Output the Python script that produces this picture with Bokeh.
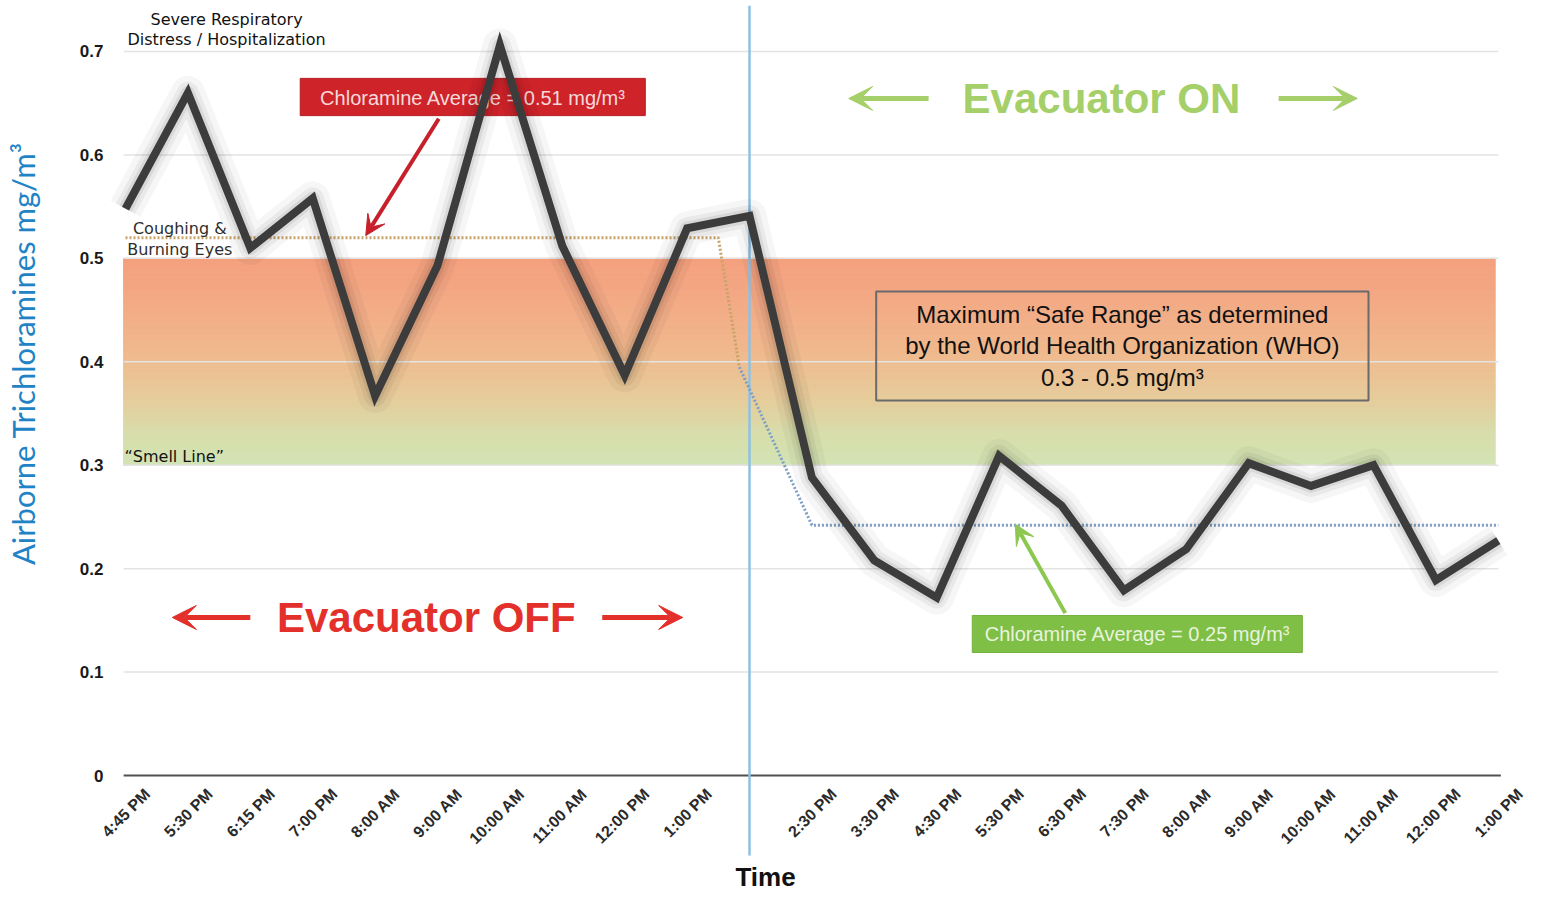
import math
from bokeh.plotting import figure
from bokeh.models import Range1d, FixedTicker, Arrow, VeeHead, Label, ColumnDataSource
from bokeh.core.properties import value
from bokeh.embed import file_html
from bokeh.resources import INLINE

# ---------------- data ----------------
off_times = ["4:45 PM", "5:30 PM", "6:15 PM", "7:00 PM", "8:00 AM", "9:00 AM",
             "10:00 AM", "11:00 AM", "12:00 PM", "1:00 PM"]
switch_time = ""
on_times = ["2:30 PM", "3:30 PM", "4:30 PM", "5:30 PM", "6:30 PM", "7:30 PM",
            "8:00 AM", "9:00 AM", "10:00 AM", "11:00 AM", "12:00 PM", "1:00 PM"]
off_values = [0.548, 0.660, 0.510, 0.558, 0.367, 0.493, 0.706, 0.512, 0.387, 0.529]
switch_value = 0.541
on_values = [0.288, 0.208, 0.172, 0.309, 0.261, 0.179, 0.219, 0.302, 0.280, 0.300, 0.189, 0.227]
avg_off = 0.52
avg_on = 0.242
safe_low, safe_high = 0.3, 0.5
y_ticks = [0, 0.1, 0.2, 0.3, 0.4, 0.5, 0.6, 0.7]
y_tick_labels = ["0", "0.1", "0.2", "0.3", "0.4", "0.5", "0.6", "0.7"]

labels = off_times + [switch_time] + on_times
values = off_values + [switch_value] + on_values
n = len(labels)
xs = list(range(n))
sw = len(off_times)          # index where the evacuator is switched on
last = n - 1

# ---------------- styling ----------------
FONT = "Liberation Sans"
NOTE_FONT = "DejaVu Sans"
GRID_X0 = -0.03
LABEL_SHIFT = 0.35
YAXIS_X = -0.2404

x_range = Range1d(-2.0032, 22.516)
y_range = Range1d(-0.11892, 0.74447)
p = figure(width=1535, height=898, output_backend="svg", toolbar_location=None,
           x_range=x_range, y_range=y_range,
           min_border_left=0, min_border_right=5, min_border_top=5, min_border_bottom=0)
p.outline_line_color = None
p.grid.visible = False
p.background_fill_color = "white"
p.border_fill_color = "white"

# x axis (drawn at y = 0 inside the frame)
tick_pos = [i + LABEL_SHIFT for i in xs]
p.xaxis.ticker = FixedTicker(ticks=tick_pos)
p.xaxis.major_label_overrides = {t: lab for t, lab in zip(tick_pos, labels)}
p.xaxis.major_label_orientation = math.pi / 4
p.xaxis.fixed_location = 0
p.xaxis.axis_line_color = None
p.xaxis.major_tick_line_color = None
p.xaxis.minor_tick_line_color = None
p.xaxis.major_tick_out = 0
p.xaxis.major_tick_in = 0
p.xaxis.major_label_text_font = FONT
p.xaxis.major_label_text_font_size = "16px"
p.xaxis.major_label_text_font_style = "bold"
p.xaxis.major_label_text_color = "#2a2a2a"
p.xaxis.major_label_standoff = 16
p.xaxis.axis_label = "Time"
p.xaxis.axis_label_text_font = FONT
p.xaxis.axis_label_text_font_size = "26px"
p.xaxis.axis_label_text_font_style = "bold"
p.xaxis.axis_label_text_color = "#111111"
p.xaxis.axis_label_standoff = 6

# y axis (drawn at the left edge of the plotting area)
p.yaxis.ticker = FixedTicker(ticks=y_ticks)
p.yaxis.major_label_overrides = {t: s for t, s in zip(y_ticks, y_tick_labels)}
p.yaxis.fixed_location = YAXIS_X
p.yaxis.axis_line_color = None
p.yaxis.major_tick_line_color = None
p.yaxis.minor_tick_line_color = None
p.yaxis.major_tick_out = 0
p.yaxis.major_tick_in = 0
p.yaxis.major_label_text_font = FONT
p.yaxis.major_label_text_font_size = "17px"
p.yaxis.major_label_text_font_style = "bold"
p.yaxis.major_label_text_color = "#1a1a1a"
p.yaxis.major_label_standoff = 7

p.add_layout(Label(x=-1.65, y=0.408, text="Airborne Trichloramines mg/m³", angle=math.pi / 2,
                   text_font="Lato", text_font_size="31px", text_color="#1f83c6",
                   text_align="center", text_baseline="middle"))

# ---- WHO safe band with vertical gradient ----
stops = [(0.0, (0xd3, 0xe4, 0xb4)), (0.17, (0xd8, 0xdc, 0xaa)), (0.32, (0xe6, 0xcc, 0x9b)),
         (0.56, (0xf0, 0xb8, 0x8d)), (0.8, (0xf3, 0xa9, 0x85)), (1.0, (0xf4, 0xa0, 0x7e))]

def interp(f):
    for (f0, c0), (f1, c1) in zip(stops[:-1], stops[1:]):
        if f0 <= f <= f1:
            t = (f - f0) / (f1 - f0)
            return "#%02x%02x%02x" % tuple(int(round(a + (b - a) * t)) for a, b in zip(c0, c1))
    return "#%02x%02x%02x" % stops[-1][1]

nstrip = 60
h = (safe_high - safe_low) / nstrip
bottoms = [safe_low + k * h for k in range(nstrip)]
tops = [b + h for b in bottoms]
cols = [interp((k + 0.5) / nstrip) for k in range(nstrip)]
p.quad(left=GRID_X0, right=last - 0.05, bottom=bottoms, top=tops, fill_color=cols,
       line_color=cols, line_width=1)

# grid lines and baseline
gy = y_ticks[1:]
p.segment(x0=GRID_X0, x1=last, y0=gy, y1=gy, line_color="#e3e3e3", line_width=1.5)
p.segment(x0=GRID_X0, x1=last + 0.04, y0=0, y1=0, line_color="#505050", line_width=2)

# switch line
p.segment(x0=sw, x1=sw, y0=-0.0773, y1=y_range.end, line_color="#8fc0e3", line_width=2.5)

# WHO box
who_l, who_r, who_b, who_t = 12.03, 19.92, 0.3626, 0.468
p.quad(left=who_l, right=who_r, bottom=who_b, top=who_t, fill_color=None,
       line_color="#6a6a6a", line_width=2)
p.text(x=[(who_l + who_r) / 2], y=[(who_b + who_t) / 2],
       text=["Maximum “Safe Range” as determined\nby the World Health Organization (WHO)\n0.3 - 0.5 mg/m³"],
       text_font=value(FONT), text_font_size="24px", text_color="#111111",
       text_align="center", text_baseline="middle", text_line_height=1.15)

# average boxes
p.quad(left=2.80, right=8.33, bottom=0.638, top=0.674, fill_color="#cf232a",
       line_color="#b51d24", line_width=1)
p.text(x=[5.57], y=[0.6555], text=["Chloramine Average = 0.51 mg/m³"],
       text_font=value(FONT), text_font_size="20px", text_color="#f6dada",
       text_align="center", text_baseline="middle")
p.quad(left=13.57, right=18.86, bottom=0.1189, top=0.1547, fill_color="#7fbf46",
       line_color="#74b13f", line_width=1)
p.text(x=[16.22], y=[0.1368], text=["Chloramine Average = 0.25 mg/m³"],
       text_font=value(FONT), text_font_size="20px", text_color="#e8f3de",
       text_align="center", text_baseline="middle")

# average (dotted) lines
mid_x = sw - 0.5 + (1.5 / 2) * 0.45
mid_y = avg_off + (avg_on - avg_off) * 0.45
p.line([0, sw - 0.5, mid_x], [avg_off, avg_off, mid_y], line_color="#c8a468",
       line_width=3, line_dash="2 2")
p.line([mid_x, sw + 1, last], [mid_y, avg_on, avg_on], line_color="#7d9fc3",
       line_width=3, line_dash="2 2")

# threshold texts
p.text(x=[1.62], y=[0.7213], text=["Severe Respiratory\nDistress / Hospitalization"],
       text_font=value(NOTE_FONT), text_font_size="16px", text_color="#111111",
       text_align="center", text_baseline="middle", text_line_height=1.1)
p.text(x=[0.87], y=[0.519], text=["Coughing &\nBurning Eyes"],
       text_font=value(NOTE_FONT), text_font_size="16px", text_color="#2e2e2e",
       text_align="center", text_baseline="middle", text_line_height=1.1)
p.text(x=[-0.016], y=[0.3084], text=["“Smell Line”"],
       text_font=value(NOTE_FONT), text_font_size="16px", text_color="#111111",
       text_align="left", text_baseline="middle")

# main series with soft shadow
src = ColumnDataSource(dict(x=xs, y=values))
p.line("x", "y", source=src, line_width=34, line_color="#000000", line_alpha=0.035,
       line_join="round")
p.line("x", "y", source=src, line_width=22, line_color="#000000", line_alpha=0.05,
       line_join="round")
p.line("x", "y", source=src, line_width=14, line_color="#000000", line_alpha=0.07,
       line_join="round")
p.line("x", "y", source=src, line_width=8, line_color="#3c3c3c", line_join="miter")

# evacuator labels and arrows
ON = "#a5cf69"
OFF = "#e3302a"
p.text(x=[15.64], y=[0.6546], text=["Evacuator ON"], text_font=value(FONT),
       text_font_size="42px", text_font_style="bold", text_color=ON,
       text_align="center", text_baseline="middle")
p.text(x=[4.82], y=[0.1528], text=["Evacuator OFF"], text_font=value(FONT),
       text_font_size="42px", text_font_style="bold", text_color=OFF,
       text_align="center", text_baseline="middle")

def arrow(x0, y0, x1, y1, color, width, size):
    p.add_layout(Arrow(end=VeeHead(size=size, fill_color=color, line_color=color),
                       x_start=x0, y_start=y0, x_end=x1, y_end=y1,
                       line_color=color, line_width=width))

arrow(12.87, 0.6546, 11.59, 0.6546, ON, 5, 24)
arrow(18.48, 0.6546, 19.74, 0.6546, ON, 5, 24)
arrow(2.00, 0.1528, 0.75, 0.1528, OFF, 5, 24)
arrow(7.64, 0.1528, 8.93, 0.1528, OFF, 5, 24)
arrow(5.02, 0.635, 3.85, 0.522, "#c8202a", 4, 20)
arrow(15.06, 0.157, 14.26, 0.243, "#8cc850", 4, 20)

open("out.html", "w").write(file_html(p, INLINE))
